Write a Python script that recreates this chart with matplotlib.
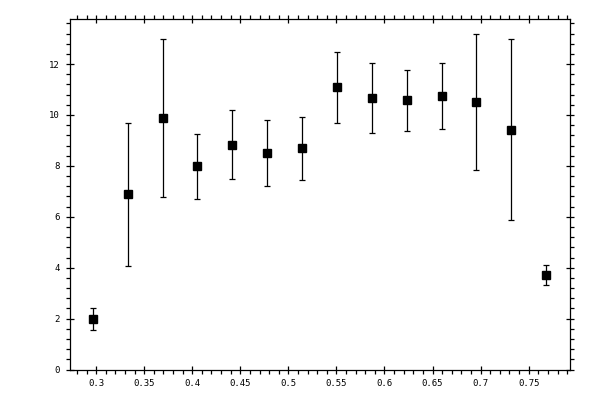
import matplotlib
matplotlib.use("Agg")
import matplotlib.pyplot as plt
from matplotlib.ticker import MultipleLocator, FormatStrFormatter

# data
x = [0.2966, 0.3329, 0.3692, 0.4054, 0.4417, 0.4780, 0.5143, 0.5506,
     0.5869, 0.6231, 0.6594, 0.6957, 0.7320, 0.7683]
y = [1.98, 6.89, 9.87, 7.99, 8.81, 8.50, 8.69, 11.09,
     10.66, 10.58, 10.73, 10.50, 9.40, 3.71]
y_hi = [2.40, 9.70, 13.00, 9.24, 10.18, 9.79, 9.91, 12.46,
        12.03, 11.75, 12.03, 13.17, 12.97, 4.10]
y_lo = [1.56, 4.06, 6.77, 6.69, 7.47, 7.20, 7.44, 9.69,
        9.28, 9.36, 9.44, 7.83, 5.87, 3.33]

err_lo = [a - b for a, b in zip(y, y_lo)]
err_hi = [b - a for a, b in zip(y, y_hi)]

fig = plt.figure(figsize=(6, 4), dpi=100)
ax = fig.add_axes([0.116, 0.076, 0.834, 0.8765])

ax.errorbar(x, y, yerr=[err_lo, err_hi], fmt='s', color='black',
            markersize=5.2, elinewidth=0.9, capsize=2.3, capthick=0.9)

ax.set_xlim(0.2724, 0.793)
ax.set_ylim(0, 13.77)

ax.xaxis.set_major_locator(MultipleLocator(0.05))
ax.xaxis.set_minor_locator(MultipleLocator(0.01))
ax.yaxis.set_major_locator(MultipleLocator(2))
ax.yaxis.set_minor_locator(MultipleLocator(0.4))
ax.xaxis.set_major_formatter(FormatStrFormatter('%g'))
ax.yaxis.set_major_formatter(FormatStrFormatter('%g'))

ax.tick_params(which='both', top=True, right=True, labeltop=False,
               labelright=False, width=0.9, labelsize=6.5)
ax.tick_params(which='major', direction='inout', length=5.8, pad=4)
ax.tick_params(which='minor', direction='out', length=2.8)
for lab in ax.get_xticklabels() + ax.get_yticklabels():
    lab.set_family('DejaVu Sans Mono')
for s in ax.spines.values():
    s.set_linewidth(0.9)

fig.savefig('out.png', dpi=100)
